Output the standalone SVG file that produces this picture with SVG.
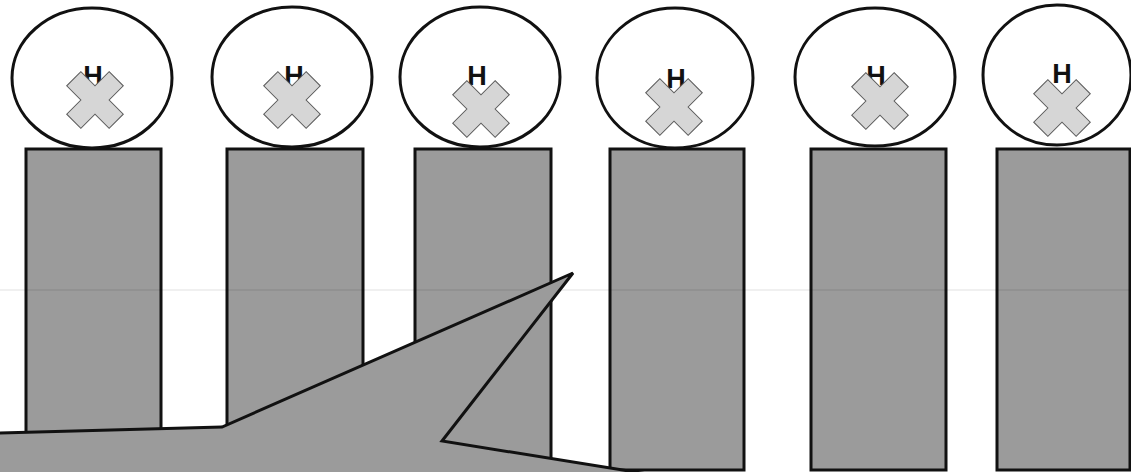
<svg xmlns="http://www.w3.org/2000/svg" width="1131" height="472" viewBox="0 0 1131 472">
  <style>
    .post { fill: #9b9b9b; stroke: #111; stroke-width: 3; }
    .ball { fill: #ffffff; stroke: #111; stroke-width: 3; }
    .mark { fill: #d6d6d6; stroke: #5a5a5a; stroke-width: 1; }
    .h { font-family: "Liberation Sans", Arial, sans-serif; font-weight: bold; font-size: 27px; fill: #111; text-anchor: middle; }
    .shape { fill: #9b9b9b; stroke: #111; stroke-width: 3; stroke-linejoin: miter; }
  </style>
  <defs>
    <path id="xmark" d="M -10 -30 L 10 -30 L 10 -10 L 30 -10 L 30 10 L 10 10 L 10 30 L -10 30 L -10 10 L -30 10 L -30 -10 L -10 -10 Z" transform="rotate(45)"/>
  </defs>
  <rect width="1131" height="472" fill="#ffffff"/>

  <g id="posts">
    <rect id="post1" class="post" x="26" y="149" width="135" height="321"/>
    <rect id="post2" class="post" x="227" y="149" width="136" height="321"/>
    <rect id="post3" class="post" x="415" y="149" width="136" height="321"/>
    <rect id="post4" class="post" x="610" y="149" width="134" height="321"/>
    <rect id="post5" class="post" x="811" y="149" width="135" height="321"/>
    <rect id="post6" class="post" x="997" y="149" width="133" height="321"/>
  </g>

  <line x1="0" y1="290" x2="1131" y2="290" stroke="#000" stroke-opacity="0.08" stroke-width="1.5"/>

  <g id="node1">
    <ellipse class="ball" cx="92" cy="78" rx="80" ry="70"/>
    <text class="h" x="93" y="85">H</text>
    <use href="#xmark" class="mark" transform="translate(95,100)"/>
  </g>
  <g id="node2">
    <ellipse class="ball" cx="292" cy="77" rx="80" ry="70"/>
    <text class="h" x="294" y="85">H</text>
    <use href="#xmark" class="mark" transform="translate(292,100)"/>
  </g>
  <g id="node3">
    <ellipse class="ball" cx="480" cy="77" rx="80" ry="70"/>
    <text class="h" x="477" y="85">H</text>
    <use href="#xmark" class="mark" transform="translate(481,109)"/>
  </g>
  <g id="node4">
    <ellipse class="ball" cx="675" cy="78" rx="78" ry="70"/>
    <text class="h" x="676" y="88">H</text>
    <use href="#xmark" class="mark" transform="translate(674,107)"/>
  </g>
  <g id="node5">
    <ellipse class="ball" cx="875" cy="77" rx="80" ry="69"/>
    <text class="h" x="876" y="85">H</text>
    <use href="#xmark" class="mark" transform="translate(880,101)"/>
  </g>
  <g id="node6">
    <ellipse class="ball" cx="1057" cy="75" rx="74" ry="70"/>
    <text class="h" x="1062" y="83">H</text>
    <use href="#xmark" class="mark" transform="translate(1062,108)"/>
  </g>

  <g id="connectors">
    <polygon class="shape" points="-3,433 222,427 573,273 442,441 660,476 -3,476"/>
  </g>
</svg>
